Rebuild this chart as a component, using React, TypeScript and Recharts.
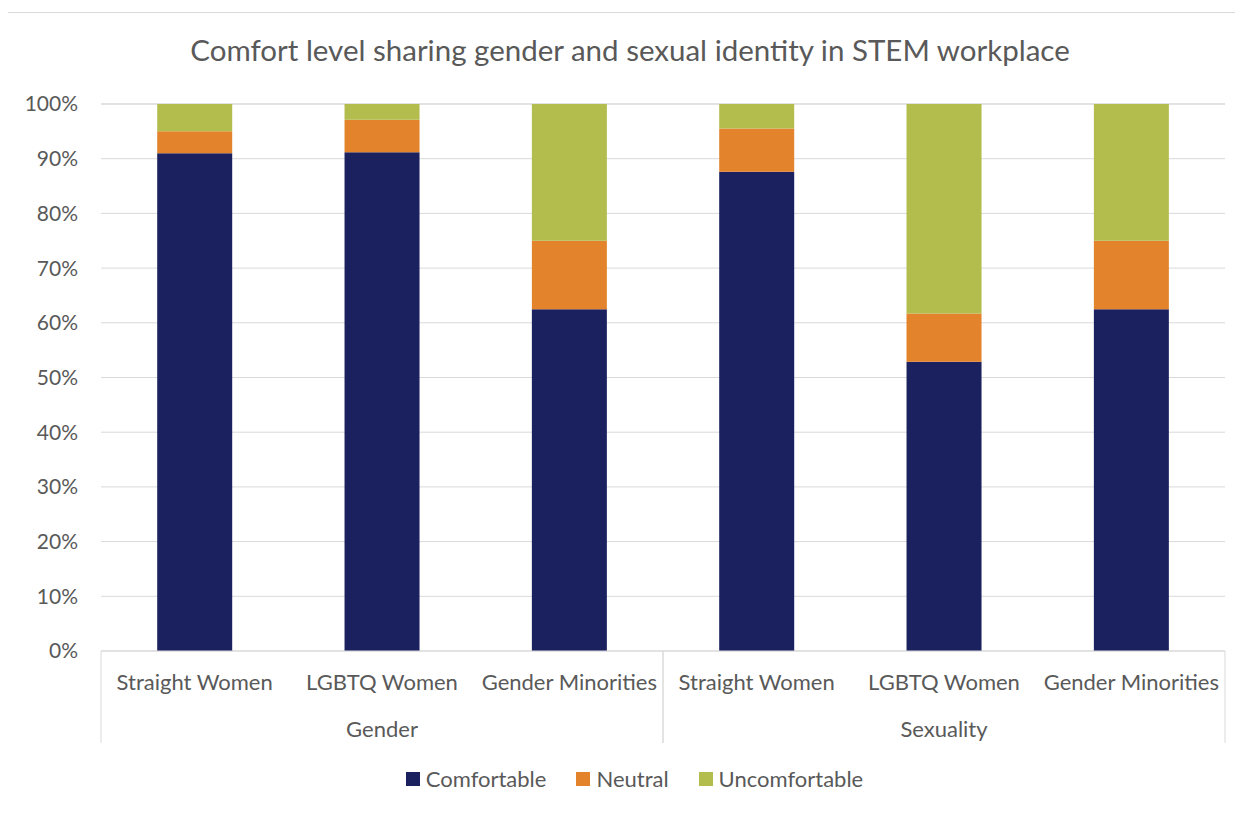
import * as React from 'react';
import { BarChart, Bar, XAxis, YAxis, CartesianGrid, Legend } from 'recharts';

const categories = ['Straight Women', 'LGBTQ Women', 'Gender Minorities', 'Straight Women', 'LGBTQ Women', 'Gender Minorities'];
const groups = ['Gender', 'Gender', 'Gender', 'Sexuality', 'Sexuality', 'Sexuality'];
const comfortable = [91.0, 91.2, 62.5, 87.6, 52.9, 62.5];
const neutral = [4.0, 5.9, 12.5, 7.9, 8.8, 12.5];
const uncomfortable = [5.0, 2.9, 25.0, 4.5, 38.3, 25.0];
const yTicks = [0, 10, 20, 30, 40, 50, 60, 70, 80, 90, 100];

const FONT = 'Lato, "Open Sans", sans-serif';
const GREY = '#595959';
const LINE = '#d9d9d9';

const series = [
  { key: 'Comfortable', color: '#1b215f' },
  { key: 'Neutral', color: '#e3832c' },
  { key: 'Uncomfortable', color: '#b2bd4e' },
];

const data = categories.map((c, i) => ({
  id: i,
  label: c,
  group: groups[i],
  Comfortable: comfortable[i],
  Neutral: neutral[i],
  Uncomfortable: uncomfortable[i],
}));

const CategoryTick = (props: any) => {
  const { x, y, payload, width } = props;
  const i = payload.index;
  const band = width / categories.length;
  const first = i === 0 || groups[i - 1] !== groups[i];
  const last = i === categories.length - 1 || groups[i + 1] !== groups[i];
  const members = groups.filter(g => g === groups[i]).length;
  const start = groups.indexOf(groups[i]);
  const middle = start + Math.floor(members / 2) === i;
  return (
    <g>
      <text x={x} y={y + 39} textAnchor="middle" fill={GREY} fontSize={22} fontFamily={FONT}>
        {categories[i]}
      </text>
      {middle && (
        <text x={x} y={y + 86} textAnchor="middle" fill={GREY} fontSize={22} fontFamily={FONT}>
          {groups[i]}
        </text>
      )}
      {first && <line x1={x - band / 2} x2={x - band / 2} y1={y} y2={y + 92} stroke={LINE} />}
      {last && <line x1={x + band / 2} x2={x + band / 2} y1={y} y2={y + 92} stroke={LINE} />}
    </g>
  );
};

const LegendContent = () => (
  <div style={{ height: 50, paddingTop: 22, paddingLeft: 36, boxSizing: 'border-box', display: 'flex', justifyContent: 'center', fontFamily: FONT, fontSize: 22, color: GREY, lineHeight: '28px' }}>
    {series.map(s => (
      <div key={s.key} style={{ display: 'flex', alignItems: 'center', margin: '0 15px' }}>
        <span style={{ width: 14, height: 14, background: s.color, marginRight: 6, display: 'inline-block' }} />
        {s.key}
      </div>
    ))}
  </div>
);

export default function App() {
  return (
    <div style={{ position: 'relative', marginLeft: -1, marginTop: 4, width: 1244, height: 820, border: `1px solid ${LINE}`, background: '#fff' }}>
      <div style={{ position: 'absolute', top: 19, left: 0, width: 1244, textAlign: 'center', fontFamily: FONT, fontSize: 29.5, color: GREY }}>
        Comfort level sharing gender and sexual identity in STEM workplace
      </div>
      <BarChart
        width={1244}
        height={800}
        data={data}
        margin={{ top: 91, right: 27, bottom: 20, left: 0 }}
        barCategoryGap="30%"
      >
        <CartesianGrid vertical={false} stroke={LINE} />
        <XAxis
          dataKey="id"
          height={92}
          interval={0}
          tickLine={false}
          tickSize={0}
          tickMargin={0}
          axisLine={{ stroke: LINE }}
          tick={<CategoryTick />}
        />
        <YAxis
          width={93}
          domain={[0, 100]}
          ticks={yTicks}
          tickFormatter={(v: number) => `${v}%`}
          axisLine={false}
          tickLine={false}
          tickSize={6}
          tickMargin={17}
          tick={{ fill: GREY, fontSize: 21, fontFamily: FONT }}
        />
        <Legend verticalAlign="bottom" content={<LegendContent />} />
        {series.map(s => (
          <Bar key={s.key} dataKey={s.key} stackId="a" fill={s.color} isAnimationActive={false} />
        ))}
      </BarChart>
    </div>
  );
}
